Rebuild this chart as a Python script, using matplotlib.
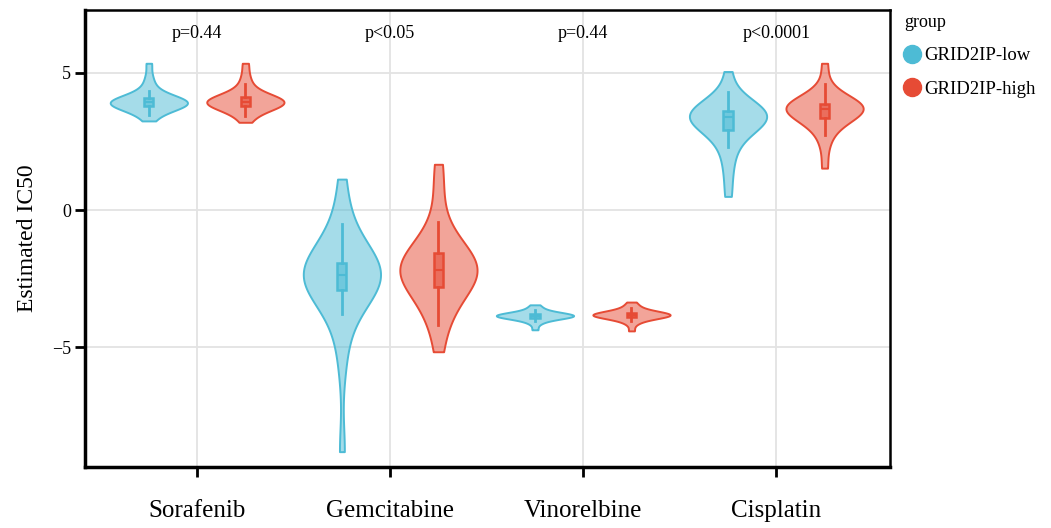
import numpy as np
import matplotlib.pyplot as plt
from matplotlib.colors import to_rgba
from matplotlib.lines import Line2D

plt.rcParams['font.family'] = ['Liberation Serif', 'DejaVu Serif']

drugs = ['Sorafenib', 'Gemcitabine', 'Vinorelbine', 'Cisplatin']
p_labels = ['p=0.44', 'p<0.05', 'p=0.44', 'p<0.0001']
groups = ['GRID2IP-low', 'GRID2IP-high']
colors = ['#4DBBD5', '#E64B35']

# estimated IC50 values (quantile-like points)
sorafenib_low = [3.25, 3.45, 3.58, 3.66, 3.72, 3.77, 3.8, 3.83, 3.86, 3.88, 3.9, 3.92,
                 3.94, 3.96, 3.98, 4.0, 4.03, 4.07, 4.13, 4.22, 4.35, 4.55, 4.85, 5.35]
sorafenib_high = [3.2, 3.42, 3.56, 3.65, 3.72, 3.77, 3.81, 3.84, 3.87, 3.9, 3.92, 3.94,
                  3.96, 3.98, 4.01, 4.04, 4.07, 4.11, 4.17, 4.26, 4.4, 4.6, 4.9, 5.35]
gemcitabine_low = [-8.8, -5.6, -4.4, -3.8, -3.35, -3.0, -2.88, -2.76, -2.65, -2.55, -2.45, -2.38,
                   -2.33, -2.25, -2.17, -2.08, -2.0, -1.95, -1.86, -1.6, -1.25, -0.5, -0.2, 1.13]
gemcitabine_high = [-5.16, -4.2, -3.8, -3.5, -3.2, -2.9, -2.77, -2.65, -2.52, -2.4, -2.3, -2.22,
                    -2.14, -2.05, -1.95, -1.85, -1.75, -1.6, -1.45, -1.2, -0.9, -0.45, 0.65, 1.67]
vinorelbine_low = [-4.36, -4.15, -4.05, -4.0, -3.96, -3.93, -3.91, -3.89, -3.88, -3.87, -3.86, -3.85,
                   -3.84, -3.83, -3.82, -3.81, -3.8, -3.78, -3.76, -3.73, -3.69, -3.63, -3.55, -3.45]
vinorelbine_high = [-4.4, -4.15, -4.05, -3.98, -3.94, -3.91, -3.89, -3.87, -3.85, -3.84, -3.83, -3.82,
                    -3.81, -3.8, -3.79, -3.78, -3.76, -3.74, -3.71, -3.68, -3.63, -3.56, -3.47, -3.35]
cisplatin_low = [0.5, 1.3, 1.9, 2.3, 2.6, 2.85, 2.96, 3.06, 3.15, 3.23, 3.3, 3.36,
                 3.4, 3.44, 3.48, 3.52, 3.56, 3.6, 3.66, 3.74, 3.85, 4.0, 4.3, 5.05]
cisplatin_high = [1.53, 2.3, 2.75, 3.0, 3.15, 3.28, 3.36, 3.44, 3.52, 3.58, 3.64, 3.68,
                  3.72, 3.75, 3.78, 3.81, 3.83, 3.85, 3.9, 3.98, 4.08, 4.25, 4.6, 5.35]

low_data = [sorafenib_low, gemcitabine_low, vinorelbine_low, cisplatin_low]
high_data = [sorafenib_high, gemcitabine_high, vinorelbine_high, cisplatin_high]

fig = plt.figure(figsize=(10.51, 5.28), dpi=100)
ax = fig.add_axes([0.081, 0.116, 0.766, 0.865])

x = np.arange(1, len(drugs) + 1)
offset = 0.25
for data, col, dx in zip([low_data, high_data], colors, [-offset, offset]):
    pos = x + dx
    vp = ax.violinplot(data, positions=pos, widths=0.4, showextrema=False,
                       bw_method='scott', points=400)
    for body in vp['bodies']:
        body.set_alpha(None)
        body.set_facecolor(to_rgba(col, 0.5))
        body.set_edgecolor(col)
        body.set_linewidth(1.4)
        body.set_zorder(2)
    ax.boxplot(data, positions=pos, widths=0.047, showfliers=False, showcaps=False,
               patch_artist=True, whis=1.5, zorder=3,
               boxprops=dict(facecolor=to_rgba(col, 0.6), edgecolor=col, linewidth=1.8),
               medianprops=dict(color=col, linewidth=1.5),
               whiskerprops=dict(color=col, linewidth=2))

for xi, lab in zip(x, p_labels):
    ax.text(xi, 6.45, lab, ha='center', va='center', fontsize=13)

ax.set_xlim(0.42, 4.59)
ax.set_ylim(-9.35, 7.29)
ax.set_xticks(x)
ax.set_xticklabels(drugs, fontsize=18)
ax.set_yticks([-5, 0, 5])
ax.set_yticklabels(['\u22125', '0', '5'])
ax.tick_params(axis='y', labelsize=13, length=7, width=2, pad=3)
ax.tick_params(axis='x', length=7, width=2, pad=17)
ax.set_ylabel('Estimated IC50', fontsize=17, labelpad=10)

ax.grid(True, color='#e3e3e3', linewidth=1.3)
ax.set_axisbelow(True)
for side in ['left', 'bottom']:
    ax.spines[side].set_linewidth(2.5)
for side in ['top', 'right']:
    ax.spines[side].set_linewidth(1.8)

handles = [Line2D([], [], marker='o', linestyle='', markersize=13, color=c) for c in colors]
leg = ax.legend(handles, groups, title='group', loc='upper left', bbox_to_anchor=(1.003, 1.015),
                frameon=False, fontsize=13.5, title_fontsize=13, handletextpad=0.2,
                handlelength=0.9, labelspacing=0.85, borderaxespad=0.2)
leg._legend_box.align = 'left'

fig.savefig('out.png', dpi=100)
